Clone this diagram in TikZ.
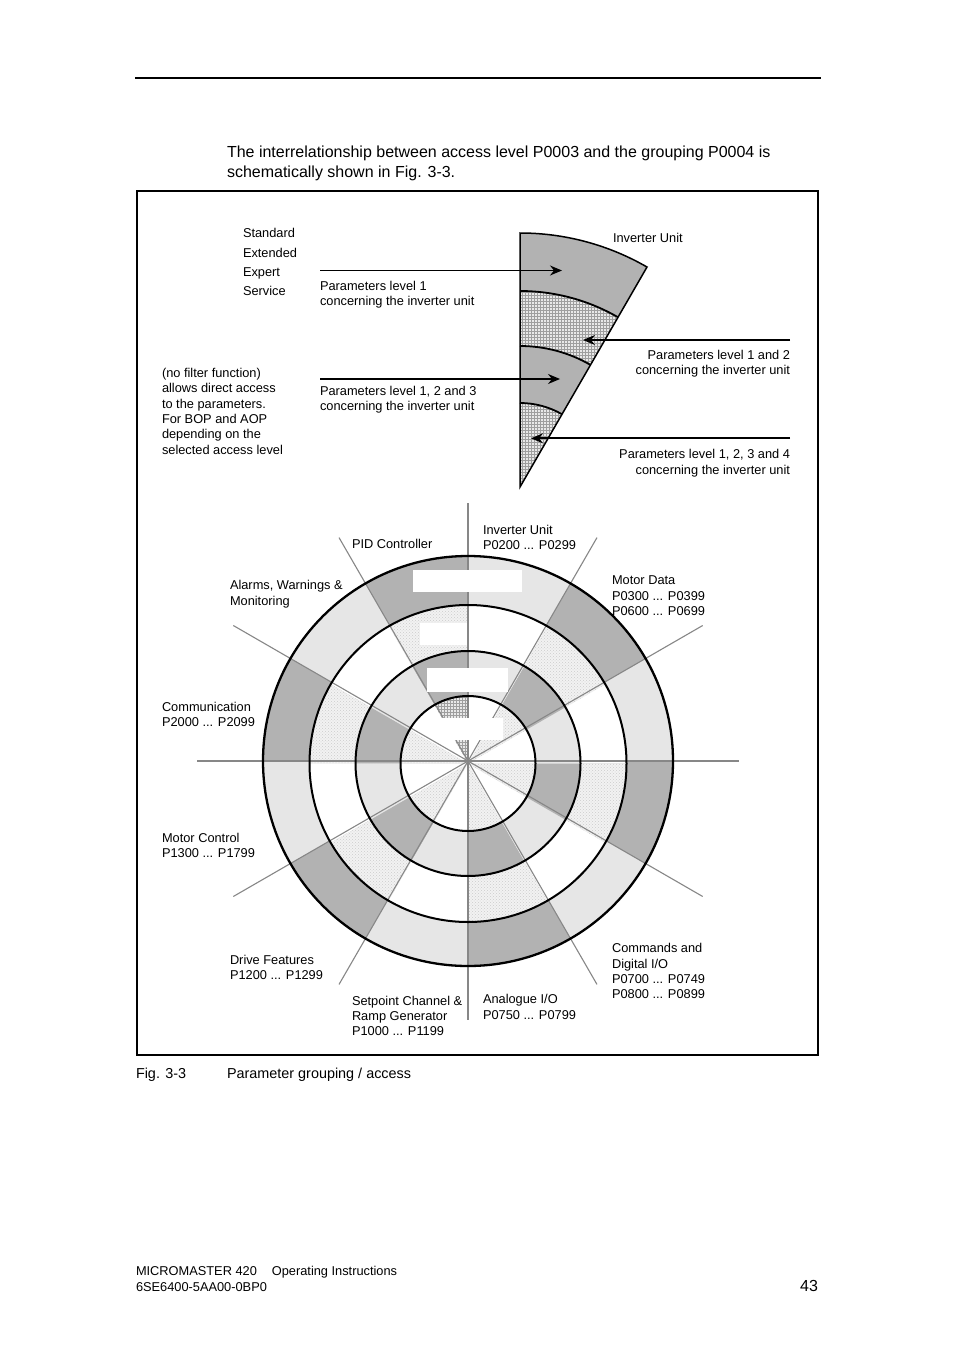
\documentclass[tikz,border=0pt]{standalone}
\usepackage{fontspec}
\setmainfont{Liberation Sans}
\usetikzlibrary{patterns,arrows.meta}
\definecolor{dk}{HTML}{B2B2B2}
\definecolor{lt}{HTML}{E6E6E6}
\definecolor{stb}{HTML}{F2F2F2}
\definecolor{grb}{HTML}{E8E8E8}
\definecolor{spk}{HTML}{878787}
\tikzset{
  lbl/.style={font=\fontsize{12.8}{15.3}\selectfont, inner sep=0pt, outer sep=0pt, align=left, anchor=north west},
  lblr/.style={lbl, align=right, anchor=north east},
  fD/.style={fill=dk},
  fL/.style={fill=lt},
  fW/.style={fill=white},
  fS/.style={fill=stb, postaction={pattern=crosshatch dots, pattern color=black!20}},
  fG/.style={fill=grb, postaction={pattern=grid, pattern color=black!38}},
  spoke/.style={draw=spk, line width=1.1pt},
  ringline/.style={draw=black, line width=2pt},
  arr/.style={-{Stealth[length=12pt,width=10pt,inset=4pt]}, line width=1.2pt},
}
\begin{document}
\begin{tikzpicture}[x=1pt,y=-1pt]
\fill[white] (0,0) rectangle (954,1351);
\useasboundingbox (0,0) rectangle (954,1351);

% page rule, intro text and frame
\draw[line width=1.2pt] (135,78) -- (821,78);
\node[lbl, font=\fontsize{16}{19.2}\selectfont] (intro) at (227,146.3) {The interrelationship between access level P0003 and the grouping P0004 is\\schematically shown in Fig. 3-3.};
\draw[line width=1.2pt] (137,191) rectangle (818,1055);

% ---------- top wedge ----------
\begin{scope}[shift={(520,487)}, yscale=-1]
  \fill[fD] (0,0) -- (60:254) arc[start angle=60, end angle=90, radius=254] -- cycle;
  \fill[fG] (0,0) -- (60:196) arc[start angle=60, end angle=90, radius=196] -- cycle;
  \fill[fD] (0,0) -- (60:141) arc[start angle=60, end angle=90, radius=141] -- cycle;
  \fill[fG] (0,0) -- (60:84) arc[start angle=60, end angle=90, radius=84] -- cycle;
  \foreach \r in {196,141,84}
    \draw[line width=1.8pt] (60:\r) arc[start angle=60, end angle=90, radius=\r];
  \draw[line width=1.5pt, line join=miter] (0,0) -- (60:254) arc[start angle=60, end angle=90, radius=254] -- cycle;
\end{scope}

\node[lbl] (iu) at (613,232.9) {Inverter Unit};
\node[lbl, font=\fontsize{12.8}{19.3}\selectfont] (levels) at (243,228.7) {Standard\\Extended\\Expert\\Service};
\node[lbl] (nofilter) at (162,368.3) {(no filter function)\\allows direct access\\to the parameters.\\For BOP and AOP\\depending on the\\selected access level};
\node[lbl] (p1) at (320,280.8) {Parameters level 1\\concerning the inverter unit};
\node[lbl] (p123) at (320,386.3) {Parameters level 1, 2 and 3\\concerning the inverter unit};
\node[lblr] (p12) at (790,350.3) {Parameters level 1 and 2\\concerning the inverter unit};
\node[lblr] (p1234) at (790,449.5) {Parameters level 1, 2, 3 and 4\\concerning the inverter unit};

\coordinate (a1s) at (320,270.5); \coordinate (a1e) at (562,270.5);
\coordinate (a2s) at (790,340);   \coordinate (a2e) at (583,340);
\coordinate (a3s) at (320,379);   \coordinate (a3e) at (560,379);
\coordinate (a4s) at (790,438.3); \coordinate (a4e) at (531,438.3);
\draw[arr] (a1s) -- (a1e);
\draw[arr] (a2s) -- (a2e);
\draw[arr] (a3s) -- (a3e);
\draw[arr, line width=2pt] (a4s) -- (a4e);

% ---------- wheel ----------
\begin{scope}[shift={(468,761)}, yscale=-1]
  \foreach \a/\s in {0/fL,30/fD,60/fL,90/fD,120/fL,150/fD,180/fL,210/fD,240/fL,270/fD,300/fL,330/fD}
    \fill[\s] (0,0) -- (\a:205) arc[start angle=\a, end angle=\a+30, radius=205] -- cycle;
  \begin{scope}[shift={(0,-2.5)}]
    \foreach \a/\s in {0/fW,30/fS,60/fW,90/fS,120/fW,150/fS,180/fW,210/fS,240/fW,270/fS,300/fW,330/fS}
      \fill[\s] (0,0) -- (\a:158.5) arc[start angle=\a, end angle=\a+30, radius=158.5] -- cycle;
    \foreach \a/\s in {0/fL,30/fD,60/fL,90/fD,120/fL,150/fD,180/fL,210/fD,240/fL,270/fD,300/fL,330/fD}
      \fill[\s] (0,0) -- (\a:112.5) arc[start angle=\a, end angle=\a+30, radius=112.5] -- cycle;
    \foreach \a/\s in {0/fW,30/fS,60/fW,90/fG,120/fW,150/fS,180/fW,210/fS,240/fW,270/fS,300/fW,330/fS}
      \fill[\s] (0,0) -- (\a:67.5) arc[start angle=\a, end angle=\a+30, radius=67.5] -- cycle;
  \end{scope}
  \foreach \a/\l in {0/271,30/271,60/258,90/258,120/258,150/271,180/271,210/271,240/258,270/259,300/258,330/271}
    \draw[spoke] (0,0) -- (\a:\l);
  \draw[line width=2.3pt] (0,0) circle[radius=205];
  \draw[ringline] (0,-2.5) circle[radius=158.5];
  \draw[ringline] (0,-2.5) circle[radius=112.5];
  \draw[ringline] (0,-2.5) circle[radius=67.5];
\end{scope}

% blank label boxes
\fill[white] (413,570) rectangle (522,592);
\fill[white] (420,623) rectangle (467,645);
\fill[white] (427,668) rectangle (508,692);
\fill[white] (440,718) rectangle (503,740);

\node[lbl] (pid) at (352,539.2) {PID Controller};
\node[lbl] (inv) at (483,525.3) {Inverter Unit\\P0200 ... P0299};
\node[lbl] (alarm) at (230,580.5) {Alarms, Warnings \&\\Monitoring};
\node[lbl] (motor) at (612,576) {Motor Data\\P0300 ... P0399\\P0600 ... P0699};
\node[lbl] (comm) at (162,702.4) {Communication\\P2000 ... P2099};
\node[lbl] (mctl) at (162,833.4) {Motor Control\\P1300 ... P1799};
\node[lbl] (drive) at (230,955.3) {Drive Features\\P1200 ... P1299};
\node[lbl] (cmd) at (612,943.6) {Commands and\\Digital I/O\\P0700 ... P0749\\P0800 ... P0899};
\node[lbl] (setp) at (352,996) {Setpoint Channel \&\\Ramp Generator\\P1000 ... P1199};
\node[lbl] (ana) at (483,994.7) {Analogue I/O\\P0750 ... P0799};

% caption and footer
\node[lbl, font=\fontsize{14.4}{17}\selectfont] (figno) at (136,1067.9) {Fig. 3-3};
\node[lbl, font=\fontsize{14.4}{17}\selectfont] (figcap) at (227,1067.9) {Parameter grouping / access};
\node[lbl, font=\fontsize{12.8}{16}\selectfont] (foot) at (136,1266.4) {MICROMASTER 420\hspace{15pt}Operating Instructions\\6SE6400-5AA00-0BP0};
\node[lbl, anchor=north east, font=\fontsize{16}{19}\selectfont] (pg) at (818,1280.5) {43};
\end{tikzpicture}
\end{document}
